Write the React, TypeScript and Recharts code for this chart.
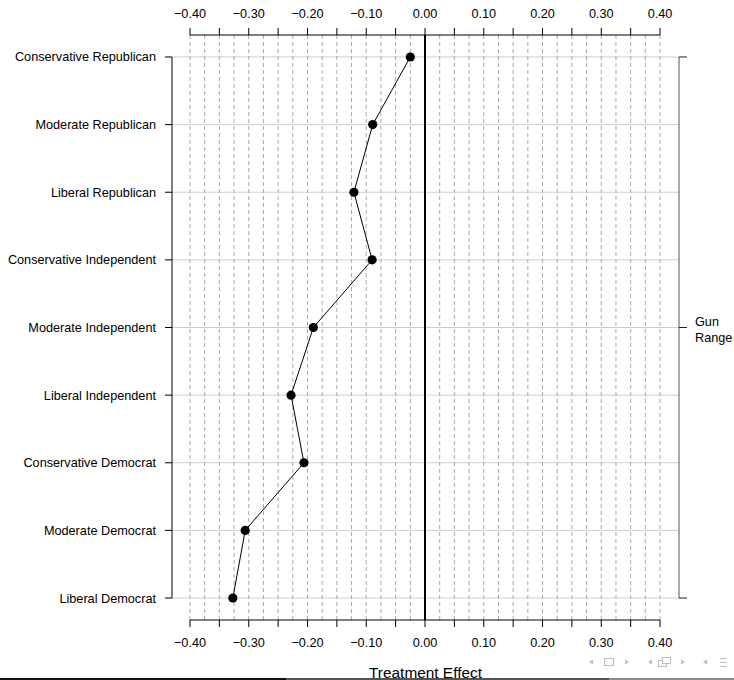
import React from 'react';
import { ScatterChart, Scatter, XAxis, YAxis, ReferenceLine } from 'recharts';

const CATEGORIES = [
  'Conservative Republican',
  'Moderate Republican',
  'Liberal Republican',
  'Conservative Independent',
  'Moderate Independent',
  'Liberal Independent',
  'Conservative Democrat',
  'Moderate Democrat',
  'Liberal Democrat',
];
const EFFECTS = [-0.025, -0.089, -0.121, -0.09, -0.19, -0.228, -0.206, -0.306, -0.327];
const X_TICKS = [-0.4, -0.35, -0.3, -0.25, -0.2, -0.15, -0.1, -0.05, 0, 0.05, 0.1, 0.15, 0.2, 0.25, 0.3, 0.35, 0.4];
const GRID_X = [
  -0.4, -0.375, -0.35, -0.325, -0.3, -0.275, -0.25, -0.225, -0.2, -0.175, -0.15, -0.125, -0.1, -0.075, -0.05, -0.025,
  0.025, 0.05, 0.075, 0.1, 0.125, 0.15, 0.175, 0.2, 0.225, 0.25, 0.275, 0.3, 0.325, 0.35, 0.375, 0.4,
];
const Y_TICKS = [0, 1, 2, 3, 4, 5, 6, 7, 8];
const GROUP_TICKS = [0, 4, 8];
const GROUP_LABEL = ['Gun', 'Range'];
const X_TITLE = 'Treatment Effect';

const X_DOMAIN: [number, number] = [-0.4306, 0.4323];
const Y_DOMAIN: [number, number] = [-0.325, 8.325];

const points = CATEGORIES.map((c, i) => ({ x: EFFECTS[i], y: i, name: c }));

const FONT = '"Liberation Sans", Arial, Helvetica, sans-serif';
const FS = 12.7;

const fmtX = (v: number) => {
  const major = Math.abs(Math.round(v * 100)) % 10 === 0;
  if (!major) return '';
  const s = Math.abs(v).toFixed(2);
  return v < -1e-9 ? '\u2212' + s : s;
};

const Dot = (props: any) => <circle cx={props.cx} cy={props.cy} r={4.6} fill="#000" />;

const RightTick = (props: any) => {
  const { x, y, payload } = props;
  if (payload.value !== 4) return <g />;
  return (
    <text x={x} y={y} fontSize={FS} fill="#000" fontFamily={FONT}>
      <tspan x={x} dy={-2}>{GROUP_LABEL[0]}</tspan>
      <tspan x={x} dy={16}>{GROUP_LABEL[1]}</tspan>
    </text>
  );
};

const NAV = '#bdbdbd';
const Decor = () => (
  <svg width={734} height={680} style={{ position: 'absolute', left: 0, top: 0, pointerEvents: 'none' }}>
    <polygon points="589,662 593,659.5 593,664.5" fill={NAV} />
    <rect x={604.5} y={658.5} width={9} height={7} fill="none" stroke={NAV} />
    <polygon points="625,659.5 629,662 625,664.5" fill={NAV} />
    <polygon points="648,662 652,659.5 652,664.5" fill={NAV} />
    <rect x={658.5} y={660.5} width={8} height={6} fill="#fff" stroke={NAV} />
    <rect x={662.5} y={657.5} width={8} height={6} fill="#fff" stroke={NAV} />
    <polygon points="681,659.5 685,662 681,664.5" fill={NAV} />
    <polygon points="703,662 707,659.5 707,664.5" fill={NAV} />
    <line x1={720} x2={727} y1={658.5} y2={658.5} stroke={NAV} />
    <line x1={720} x2={727} y1={662.5} y2={662.5} stroke={NAV} />
    <line x1={720} x2={727} y1={666.5} y2={666.5} stroke={NAV} />
    <rect x={0} y={678} width={286} height={2} fill="#111" />
    <rect x={286} y={678} width={323} height={2} fill="#555" />
    <rect x={609} y={678} width={125} height={2} fill="#8a8a8a" />
  </svg>
);

export default function App() {
  return (
    <div style={{ position: 'absolute', left: 0, top: 0, width: 734, height: 680, background: '#fff' }}>
      <ScatterChart width={734} height={680} margin={{ top: 0, right: 0, bottom: 0, left: 0 }} style={{ fontFamily: FONT }}>
        {Y_TICKS.map((v) => (
          <ReferenceLine key={'h' + v} y={v} stroke="#cfcfcf" />
        ))}
        {GRID_X.map((v) => (
          <ReferenceLine key={'v' + v} x={v} stroke="#a8a8a8" strokeDasharray="4 3" />
        ))}
        <ReferenceLine x={0} stroke="#000" strokeWidth={2} />
        <ReferenceLine
          segment={[{ x: X_TICKS[0], y: Y_DOMAIN[0] }, { x: X_TICKS[X_TICKS.length - 1], y: Y_DOMAIN[0] }]}
          stroke="#000"
          ifOverflow="visible"
        />
        <ReferenceLine
          segment={[{ x: X_TICKS[0], y: Y_DOMAIN[1] }, { x: X_TICKS[X_TICKS.length - 1], y: Y_DOMAIN[1] }]}
          stroke="#000"
          ifOverflow="visible"
        />
        <ReferenceLine
          segment={[{ x: X_DOMAIN[0], y: Y_TICKS[0] }, { x: X_DOMAIN[0], y: Y_TICKS[Y_TICKS.length - 1] }]}
          stroke="#000"
          ifOverflow="visible"
        />
        <ReferenceLine
          segment={[{ x: X_DOMAIN[1], y: Y_TICKS[0] }, { x: X_DOMAIN[1], y: Y_TICKS[Y_TICKS.length - 1] }]}
          stroke="#555"
          ifOverflow="visible"
        />
        <XAxis
          xAxisId={0}
          type="number"
          dataKey="x"
          orientation="bottom"
          domain={X_DOMAIN}
          allowDataOverflow
          ticks={X_TICKS}
          interval={0}
          tickFormatter={fmtX}
          height={60}
          axisLine={false}
          tickSize={7}
          tickMargin={11}
          stroke="#000"
          tick={{ fill: '#000', fontSize: FS }}
          label={{ value: X_TITLE, position: 'insideBottom', offset: 2, fill: '#000', fontSize: 15.4 }}
        />
        <XAxis
          xAxisId="top"
          type="number"
          dataKey="x"
          orientation="top"
          domain={X_DOMAIN}
          allowDataOverflow
          ticks={X_TICKS}
          interval={0}
          tickFormatter={fmtX}
          height={35}
          axisLine={false}
          tickSize={7}
          tickMargin={10}
          stroke="#000"
          tick={{ fill: '#000', fontSize: FS }}
        />
        <YAxis
          yAxisId={0}
          type="number"
          dataKey="y"
          domain={Y_DOMAIN}
          allowDataOverflow
          reversed
          ticks={Y_TICKS}
          interval={0}
          tickFormatter={(i: number) => CATEGORIES[i] ?? ''}
          width={172}
          axisLine={false}
          tickSize={7}
          tickMargin={9}
          stroke="#000"
          tick={{ fill: '#000', fontSize: FS }}
        />
        <YAxis
          yAxisId="right"
          orientation="right"
          type="number"
          dataKey="y"
          domain={Y_DOMAIN}
          allowDataOverflow
          reversed
          ticks={GROUP_TICKS}
          interval={0}
          width={55}
          axisLine={false}
          tickSize={8}
          tickMargin={8}
          stroke="#222"
          tick={<RightTick />}
        />
        <Scatter
          data={points}
          xAxisId={0}
          yAxisId={0}
          line={{ stroke: '#000', strokeWidth: 1 }}
          shape={Dot}
          isAnimationActive={false}
        />
      </ScatterChart>
      <Decor />
    </div>
  );
}
